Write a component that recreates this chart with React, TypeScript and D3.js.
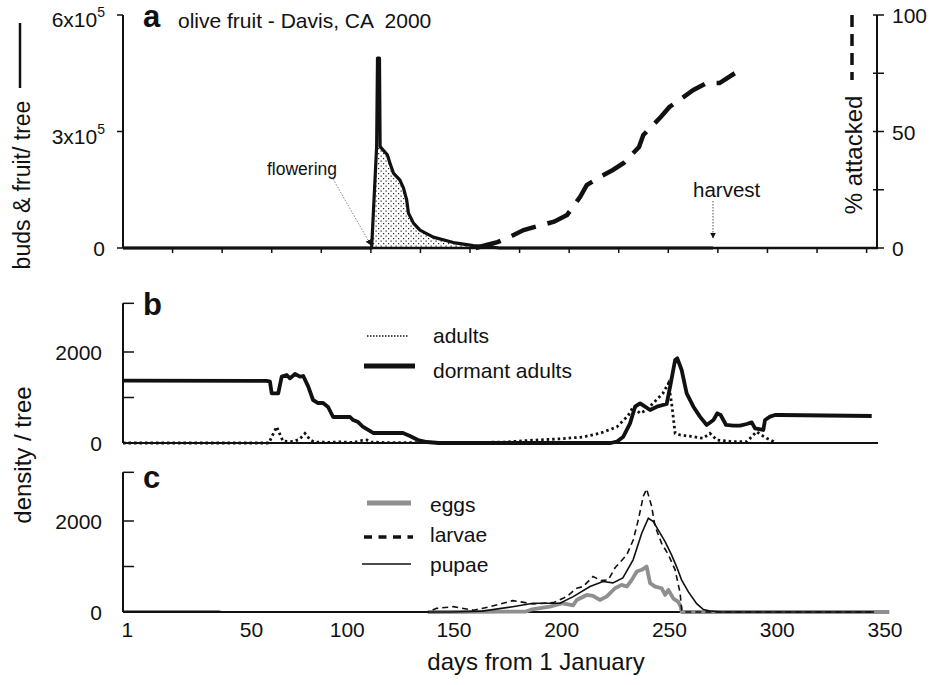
import React from "react";
import * as d3 from "d3";

type P = [number, number];

// ---- data (day of year, value) ----
const budsFruit: P[] = [[0,0],[114.2,0],[116.5,2.61e5],[116.9,4.89e5],[117.8,4.89e5],[118.1,2.61e5],[121.4,2.40e5],[122.6,2.19e5],[124.2,1.93e5],[127.2,1.75e5],[128.8,1.55e5],[130.3,1.24e5],[131.1,0.90e5],[133.4,0.64e5],[136.4,0.46e5],[142.5,0.28e5],[151.7,0.14e5],[160.9,0.06e5],[168.6,0.03e5],[173,0],[271,0]];
const pctAttacked: P[] = [[162,0],[167,1.3],[172,2.5],[178,4.9],[184,7.7],[198,11.3],[204,14.2],[210,22],[213,27],[219,30.5],[225,33.5],[230,36.5],[237,43.3],[239,48.5],[247,56.2],[251,60.5],[257,64.5],[262,67.8],[268,70.8],[274,70.8],[281,75]];
const dormantAdults: P[] = [[0,1370],[66,1365],[67.5,1347],[68.3,1092],[71.3,1092],[72.9,1458],[75.2,1494],[76.7,1421],[79,1516],[81.3,1458],[82.8,1472],[85.1,1238],[87.3,945],[89.6,879],[91.9,879],[94.2,791],[96.5,571],[104.3,571],[105.7,505],[108,461],[110.3,352],[114.9,220],[128.6,220],[131.8,154],[135.5,66],[139.6,22],[145,0],[224,0],[226.8,29],[229.8,139],[232.9,432],[235.2,798],[237.5,872],[239.8,798],[242.1,725],[245.2,798],[249.7,857],[251.3,1238],[253.6,1824],[254.6,1861],[256.6,1604],[258.9,1092],[262,798],[265,579],[268.1,396],[271.2,505],[273,652],[274.5,615],[277,396],[280.3,381],[283.4,381],[286.5,418],[288.8,454],[290.3,322],[294.1,286],[294.9,505],[297.2,579],[299.5,615],[301.8,615],[343.9,593]];
const adults: P[] = [[0,0],[67,0],[68.5,150],[70.6,358],[72,200],[73.5,40],[78,30],[81,80],[83.6,212],[86,66],[88,20],[95,15],[100,25],[106,10],[110,60],[112,66],[114,20],[120,10],[150,5],[175,20],[188,60],[200,90],[211,130],[219,212],[226.8,352],[232,600],[234.4,798],[237.5,652],[240.5,725],[244,900],[248,1092],[250.5,1311],[252,872],[253.6,212],[255.9,176],[262,139],[266.5,103],[269.6,212],[272.7,66],[280,29],[286.5,29],[289,150],[291,249],[293,180],[295.7,103],[300,7]];
const larvae: P[] = [[0,0],[140,0],[144,80],[151.7,117],[161,40],[168.6,117],[179,250],[188.4,177],[197.7,206],[203.8,338],[208.4,522],[211.3,559],[215.9,780],[219.5,690],[222.9,706],[226,971],[231.4,1258],[234.4,1589],[236.7,2030],[239,2545],[240.5,2707],[242.8,2324],[244.4,1882],[247.4,1510],[250.5,1258],[253.6,927],[255.9,412],[256.6,40],[257.5,0],[345,0]];
const pupae: P[] = [[0,15],[44,15],[46,0],[150,0],[165,20],[179,117],[188.4,192],[200.7,192],[206.8,338],[214.5,559],[220.5,670],[225,640],[229.6,750],[234.3,1147],[238.3,1736],[241.3,2060],[243.6,1987],[245.8,1804],[249,1545],[252,1251],[254.3,993],[256.6,700],[259.7,442],[263.5,184],[266.6,52],[269.6,22],[275,0],[345,0]];
const eggs: P[] = [[140,0],[185,10],[188,60],[196,120],[202,192],[206.8,147],[208.4,265],[213,375],[215.9,353],[219,265],[222.1,338],[226,522],[229,596],[231.4,559],[233.7,706],[236,890],[238.3,927],[240.5,1000],[242.1,633],[244.4,559],[247.4,522],[249,375],[250.5,486],[252.8,295],[255.1,221],[256.2,110],[256.6,0],[352,0]];

const xTickLabels = ["1","50","100","150","200","250","300","350"];
const xTickLabelDays = [2, 59, 103, 152, 201.5, 251, 300.5, 350];
const leftTicksA = [0, 3e5, 6e5];
const leftTickLabelsA = ["0", "3x10", "6x10"];
const rightTicks = [0, 25, 50, 75, 100];
const rightTickLabels = ["0", "", "50", "", "100"];
const densTicks = [0, 1000, 2000];
const densTickLabels = ["0", "", "2000"];
const densTop = 3070;
const flowerDay = 114.3;
const harvestDay = 271;
const axisEndDay = 346.8;

const FONT = "'Liberation Sans', Arial, Helvetica, sans-serif";

export default function App() {
  const x = d3.scaleLinear().domain([0, 350]).range([123, 885]);
  const ya = d3.scaleLinear().domain([0, 6e5]).range([248, 15]);
  const yr = d3.scaleLinear().domain([0, 100]).range([248, 15]);
  const yb = d3.scaleLinear().domain([0, 3000]).range([443, 306.5]);
  const yc = d3.scaleLinear().domain([0, 3000]).range([612, 475.5]);

  const mk = (ys: d3.ScaleLinear<number, number>) =>
    d3.line<P>().x(d => x(d[0])).y(d => ys(d[1]));
  const areaA = d3.area<P>().x(d => x(d[0])).y0(ya(0)).y1(d => ya(d[1]));
  const stipple = budsFruit.filter(d => d[0] >= 114 && d[0] <= 173)
    .map(d => (d[1] > 2.7e5 ? [d[0], 2.61e5] as P : d));

  const tickA = d3.range(1, 16).map(k => k * 22.77);
  const x0 = x(0), xE = x(axisEndDay);

  const txt = { fontFamily: FONT, fill: "#111" } as const;

  return (
    <svg width={934} height={685} style={{ position: "absolute", left: 0, top: 0, background: "#fff" }}>
      <defs>
        <pattern id="dots" width="5" height="5" patternUnits="userSpaceOnUse">
          <rect x="0.5" y="0.5" width="1.2" height="1.2" fill="#222" />
          <rect x="3" y="3" width="1.2" height="1.2" fill="#222" />
        </pattern>
        <marker id="arr" viewBox="0 0 10 10" refX="9" refY="5" markerWidth="6" markerHeight="6" orient="auto">
          <path d="M0,0 L10,5 L0,10 z" fill="#111" />
        </marker>
      </defs>

      {/* ---------- panel a ---------- */}
      <path d={areaA(stipple) || ""} fill="url(#dots)" />
      <line x1={x0} x2={xE} y1={ya(0)} y2={ya(0)} stroke="#111" strokeWidth={2.5} />
      {tickA.map((t, i) => (
        <line key={i} x1={x(t)} x2={x(t)} y1={ya(0)} y2={ya(0) + 5} stroke="#111" strokeWidth={1.5} />
      ))}
      <line x1={x0} x2={x0} y1={ya(6e5)} y2={ya(0)} stroke="#111" strokeWidth={2} />
      {leftTicksA.map((t, i) => (
        <g key={i}>
          <line x1={x0 - 6} x2={x0} y1={ya(t)} y2={ya(t)} stroke="#111" strokeWidth={1.5} />
          <text x={105} y={ya(t) + (t === 0 ? 8 : 12)} textAnchor="end" fontSize={21} style={txt}>
            {leftTickLabelsA[i]}
            {t !== 0 && <tspan dy={-10} fontSize={14}>5</tspan>}
          </text>
        </g>
      ))}
      <line x1={877} x2={877} y1={yr(100)} y2={yr(0)} stroke="#111" strokeWidth={2} />
      {rightTicks.map((t, i) => (
        <g key={i}>
          <line x1={873} x2={884} y1={yr(t)} y2={yr(t)} stroke="#111" strokeWidth={1.5} />
          <text x={892} y={yr(t) + 8} fontSize={21} style={txt}>{rightTickLabels[i]}</text>
        </g>
      ))}
      <path d={mk(ya)(budsFruit) || ""} fill="none" stroke="#111" strokeWidth={3.2} strokeLinejoin="round" />
      <path d={mk(yr)(pctAttacked) || ""} fill="none" stroke="#111" strokeWidth={4.5} strokeDasharray="26 12" />
      <text x={143} y={27} fontSize={31} fontWeight="bold" style={txt}>a</text>
      <text x={178} y={28} fontSize={21} style={{ ...txt, whiteSpace: "pre" }}>olive fruit - Davis, CA  2000</text>
      <text x={267} y={175} fontSize={17.5} style={txt}>flowering</text>
      <line x1={333} y1={179} x2={x(flowerDay) - 1} y2={ya(0) - 3} stroke="#888" strokeWidth={1} strokeDasharray="1.5 1.5" markerEnd="url(#arr)" />
      <text x={693} y={197} fontSize={20.5} style={txt}>harvest</text>
      <line x1={x(harvestDay)} y1={201} x2={x(harvestDay)} y2={238} stroke="#555" strokeWidth={1} strokeDasharray="1.5 1.5" markerEnd="url(#arr)" />
      <g transform="translate(30,185) rotate(-90)">
        <text x={0} y={0} textAnchor="middle" fontSize={23} style={txt}>buds &amp; fruit/ tree</text>
      </g>
      <line x1={20} x2={20} y1={23} y2={88} stroke="#111" strokeWidth={2.5} />
      <g transform="translate(862,155) rotate(-90)">
        <text x={0} y={0} textAnchor="middle" fontSize={24} style={txt}>% attacked</text>
      </g>
      <line x1={852} x2={852} y1={15} y2={80} stroke="#111" strokeWidth={3.5} strokeDasharray="12 7" />

      {/* ---------- panel b ---------- */}
      <line x1={x0} x2={xE} y1={yb(0)} y2={yb(0)} stroke="#111" strokeWidth={2} />
      <line x1={x0} x2={x0} y1={yb(densTop)} y2={yb(0)} stroke="#111" strokeWidth={2} />
      <line x1={x0} x2={x0 + 11} y1={yb(densTop)} y2={yb(densTop)} stroke="#111" strokeWidth={1.5} />
      {densTicks.map((t, i) => (
        <g key={i}>
          {t > 0 && <line x1={x0} x2={x0 + 11} y1={yb(t)} y2={yb(t)} stroke="#111" strokeWidth={1.5} />}
          <text x={102} y={yb(t) + 7.5} textAnchor="end" fontSize={21} style={txt}>{densTickLabels[i]}</text>
        </g>
      ))}
      <path d={mk(yb)(adults) || ""} fill="none" stroke="#111" strokeWidth={2.8} strokeDasharray="2.5 3" />
      <path d={mk(yb)(dormantAdults) || ""} fill="none" stroke="#111" strokeWidth={3.8} strokeLinejoin="round" />
      <text x={143} y={315} fontSize={31} fontWeight="bold" style={txt}>b</text>
      <line x1={367} x2={409} y1={336} y2={336} stroke="#111" strokeWidth={1.5} strokeDasharray="1.5 1.5" />
      <text x={433} y={343} fontSize={21} style={txt}>adults</text>
      <line x1={364} x2={415} y1={366} y2={366} stroke="#111" strokeWidth={5} />
      <text x={433} y={378} fontSize={21} style={txt}>dormant adults</text>

      {/* ---------- panel c ---------- */}
      <line x1={x0} x2={xE} y1={yc(0)} y2={yc(0)} stroke="#111" strokeWidth={2} />
      <line x1={x0} x2={x0} y1={yc(densTop)} y2={yc(0)} stroke="#111" strokeWidth={2} />
      <line x1={x0} x2={x0 + 11} y1={yc(densTop)} y2={yc(densTop)} stroke="#111" strokeWidth={1.5} />
      {densTicks.map((t, i) => (
        <g key={i}>
          {t > 0 && <line x1={x0} x2={x0 + 11} y1={yc(t)} y2={yc(t)} stroke="#111" strokeWidth={1.5} />}
          <text x={102} y={yc(t) + 7.5} textAnchor="end" fontSize={21} style={txt}>{densTickLabels[i]}</text>
        </g>
      ))}
      <path d={mk(yc)(eggs) || ""} fill="none" stroke="#8f8f8f" strokeWidth={3.8} strokeLinejoin="round" />
      <path d={mk(yc)(pupae) || ""} fill="none" stroke="#111" strokeWidth={1.6} />
      <path d={mk(yc)(larvae) || ""} fill="none" stroke="#111" strokeWidth={1.6} strokeDasharray="6 4" />
      <text x={143} y={488} fontSize={31} fontWeight="bold" style={txt}>c</text>
      <line x1={367} x2={411} y1={503} y2={503} stroke="#8f8f8f" strokeWidth={5} />
      <text x={430} y={512} fontSize={21} style={txt}>eggs</text>
      <line x1={364} x2={413} y1={537} y2={537} stroke="#111" strokeWidth={3.5} strokeDasharray="8 6.5" />
      <text x={430} y={542} fontSize={21} style={txt}>larvae</text>
      <line x1={362} x2={411} y1={564} y2={564} stroke="#111" strokeWidth={1.5} />
      <text x={430} y={572} fontSize={21} style={txt}>pupae</text>

      {xTickLabels.map((l, i) => (
        <text key={i} x={x(xTickLabelDays[i])} y={637} textAnchor="middle" fontSize={21} style={txt}>{l}</text>
      ))}
      <text x={536} y={670} textAnchor="middle" fontSize={24} style={txt}>days from 1 January</text>
      <g transform="translate(31,455) rotate(-90)">
        <text x={0} y={0} textAnchor="middle" fontSize={24} style={txt}>density / tree</text>
      </g>
    </svg>
  );
}
